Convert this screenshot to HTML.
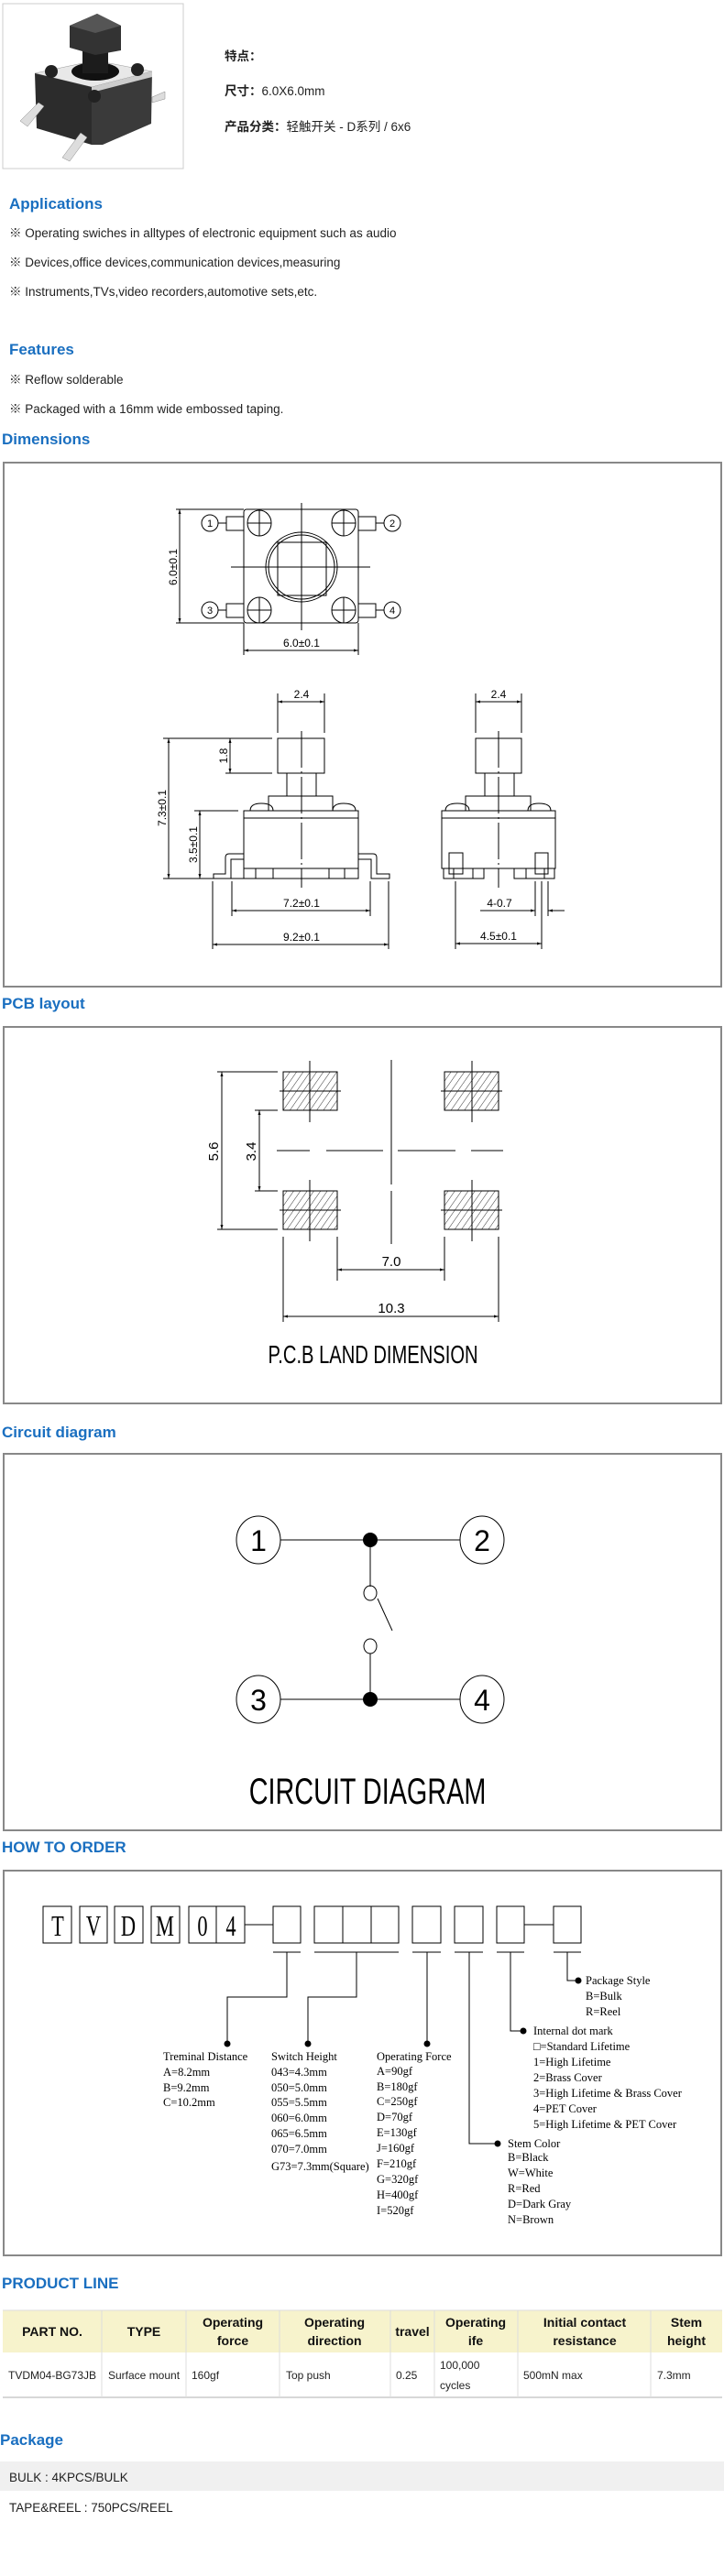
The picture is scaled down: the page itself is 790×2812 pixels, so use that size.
<!DOCTYPE html>
<html><head><meta charset="utf-8"><style>
html,body{margin:0;padding:0;background:#fff;}
svg{display:block;}
.h{font-family:"Liberation Sans",sans-serif;font-weight:bold;fill:#1a6fc0;font-size:17px;}
.t{font-family:"Liberation Sans","Noto Sans CJK SC",sans-serif;font-size:13.5px;fill:#222;}
.d{font-family:"Liberation Sans",sans-serif;font-size:12px;fill:#000;}
.s{font-family:"Liberation Serif","Noto Serif CJK SC",serif;font-size:12.5px;fill:#000;}
.ln{stroke:#000;stroke-width:1;fill:none;}
.bx{stroke:#888;stroke-width:2;fill:none;}
</style></head><body>
<svg width="790" height="2812" viewBox="0 0 790 2812" xmlns="http://www.w3.org/2000/svg">
<defs>
<pattern id="hat" width="6" height="6" patternUnits="userSpaceOnUse" patternTransform="rotate(35)">
<line x1="0" y1="0" x2="0" y2="6" stroke="#000" stroke-width="0.8"/></pattern>
<marker id="ar" viewBox="0 0 10 10" refX="10" refY="5" markerWidth="7" markerHeight="5" orient="auto-start-reverse"><path d="M0,2 L10,5 L0,8z" fill="#000"/></marker>
</defs>

<!-- product image -->
<rect x="3" y="4" width="197" height="180" fill="#fff" stroke="#ccc"/>
<polygon points="38,80 100,95 166,78 104,66" fill="#e8e8e8" stroke="#999" stroke-width="0.5"/>
<polygon points="38,80 100,95 100,158 40,140" fill="#2c2c2c"/>
<polygon points="100,95 166,78 165,135 112,158 100,158" fill="#3a3a3a"/>
<polygon points="100,95 166,78 166,84 100,101" fill="#ccc"/>
<ellipse cx="104" cy="78" rx="26" ry="10" fill="#111"/>
<rect x="90" y="50" width="28" height="30" fill="#1c1c1c"/>
<polygon points="76,28 106,15 132,28 132,55 104,60 76,52" fill="#333"/>
<polygon points="76,28 106,15 132,28 104,36" fill="#555"/>
<circle cx="56" cy="78" r="7" fill="#222"/><circle cx="150" cy="76" r="7" fill="#222"/><circle cx="103" cy="105" r="7" fill="#222"/>
<polygon points="22,132 42,112 48,116 30,138" fill="#ddd" stroke="#888" stroke-width="0.5"/>
<polygon points="68,172 88,145 95,150 76,176" fill="#ddd" stroke="#888" stroke-width="0.5"/>
<polygon points="166,106 180,100 180,108 166,112" fill="#ddd" stroke="#888" stroke-width="0.5"/>

<text x="245" y="66" class="t" font-weight="bold">特点：</text>
<text x="245" y="104" class="t"><tspan font-weight="bold">尺寸：</tspan>6.0X6.0mm</text>
<text x="245" y="143" class="t"><tspan font-weight="bold">产品分类：</tspan>轻触开关 - D系列 / 6x6</text>

<text x="10" y="228" class="h">Applications</text>
<text x="10" y="259" class="t">※ Operating swiches in alltypes of electronic equipment such as audio</text>
<text x="10" y="291" class="t">※ Devices,office devices,communication devices,measuring</text>
<text x="10" y="323" class="t">※ Instruments,TVs,video recorders,automotive sets,etc.</text>
<text x="10" y="387" class="h">Features</text>
<text x="10" y="419" class="t">※ Reflow solderable</text>
<text x="10" y="451" class="t">※ Packaged with a 16mm wide embossed taping.</text>
<text x="2" y="485" class="h">Dimensions</text>

<!-- Dimensions box -->
<rect x="4" y="505" width="783" height="572" class="bx"/>
<g class="ln">
<rect x="266" y="556" width="125" height="124" rx="3"/>
<line x1="329" y1="549" x2="329" y2="688"/><line x1="252" y1="619" x2="404" y2="619"/>
<ellipse cx="329" cy="619" rx="39" ry="38"/><ellipse cx="329" cy="619" rx="36" ry="35"/>
<rect x="303" y="592" width="53" height="58"/>
<ellipse cx="283" cy="571" rx="13" ry="14"/><ellipse cx="375" cy="571" rx="13" ry="14"/>
<ellipse cx="283" cy="666" rx="13" ry="14"/><ellipse cx="375" cy="666" rx="13" ry="14"/>
<line x1="270" y1="571" x2="296" y2="571"/><line x1="283" y1="557" x2="283" y2="585"/>
<line x1="362" y1="571" x2="388" y2="571"/><line x1="375" y1="557" x2="375" y2="585"/>
<line x1="270" y1="666" x2="296" y2="666"/><line x1="283" y1="652" x2="283" y2="680"/>
<line x1="362" y1="666" x2="388" y2="666"/><line x1="375" y1="652" x2="375" y2="680"/>
<rect x="247" y="564" width="19" height="15"/><rect x="391" y="564" width="19" height="15"/>
<rect x="247" y="659" width="19" height="15"/><rect x="391" y="659" width="19" height="15"/>
<line x1="238" y1="571" x2="247" y2="571"/><line x1="410" y1="571" x2="419" y2="571"/>
<line x1="238" y1="666" x2="247" y2="666"/><line x1="410" y1="666" x2="419" y2="666"/>
<ellipse cx="229" cy="571" rx="9" ry="9"/><ellipse cx="428" cy="571" rx="9" ry="9"/>
<ellipse cx="229" cy="666" rx="9" ry="9"/><ellipse cx="428" cy="666" rx="9" ry="9"/>
<line x1="192" y1="556" x2="266" y2="556"/><line x1="192" y1="680" x2="266" y2="680"/>
<line x1="196" y1="556" x2="196" y2="680" marker-start="url(#ar)" marker-end="url(#ar)"/>
<line x1="266" y1="680" x2="266" y2="715"/><line x1="391" y1="680" x2="391" y2="715"/>
<line x1="266" y1="710" x2="391" y2="710" marker-start="url(#ar)" marker-end="url(#ar)"/>
</g>
<g class="d" text-anchor="middle">
<text x="229" y="575" font-size="11">1</text><text x="428" y="575" font-size="11">2</text>
<text x="229" y="670" font-size="11">3</text><text x="428" y="670" font-size="11">4</text>
<text x="329" y="706">6.0±0.1</text>
<text x="0" y="0" transform="translate(193 619) rotate(-90)">6.0±0.1</text>
</g>

<!-- front view -->
<g class="ln">
<rect x="303" y="806" width="51" height="38"/>
<rect x="313" y="844" width="32" height="25"/>
<rect x="293" y="869" width="70" height="16"/>
<path d="M273,885 Q273,877 285,877 Q298,877 298,885"/><path d="M363,885 Q363,877 375,877 Q388,877 388,885"/>
<rect x="266" y="885" width="125" height="63"/><line x1="266" y1="893" x2="391" y2="893"/>
<rect x="266" y="948" width="125" height="11"/>
<line x1="279" y1="948" x2="279" y2="959"/><line x1="298" y1="948" x2="298" y2="959"/>
<line x1="359" y1="948" x2="359" y2="959"/><line x1="376" y1="948" x2="376" y2="959"/>
<path d="M266,932 L250,932 Q246,932 246,936 L246,954 L233,954 L233,959 L252,959 L252,938 L266,938"/>
<path d="M391,932 L407,932 Q411,932 411,936 L411,954 L425,954 L425,959 L405,959 L405,938 L391,938"/>
<line x1="329" y1="798" x2="329" y2="969" stroke-dasharray="40,4,2,4"/>
<line x1="303" y1="757" x2="303" y2="800"/><line x1="354" y1="757" x2="354" y2="800"/>
<line x1="303" y1="766" x2="354" y2="766" marker-start="url(#ar)" marker-end="url(#ar)"/>
<line x1="246" y1="806" x2="297" y2="806"/><line x1="246" y1="844" x2="297" y2="844"/>
<line x1="251" y1="806" x2="251" y2="844" marker-start="url(#ar)" marker-end="url(#ar)"/>
<line x1="178" y1="806" x2="246" y2="806"/><line x1="178" y1="959" x2="266" y2="959"/>
<line x1="184" y1="806" x2="184" y2="959" marker-start="url(#ar)" marker-end="url(#ar)"/>
<line x1="212" y1="885" x2="260" y2="885"/>
<line x1="218" y1="885" x2="218" y2="959" marker-start="url(#ar)" marker-end="url(#ar)"/>
<line x1="253" y1="962" x2="253" y2="1000"/><line x1="404" y1="962" x2="404" y2="1000"/>
<line x1="253" y1="994" x2="404" y2="994" marker-start="url(#ar)" marker-end="url(#ar)"/>
<line x1="232" y1="962" x2="232" y2="1036"/><line x1="424" y1="962" x2="424" y2="1036"/>
<line x1="232" y1="1031" x2="424" y2="1031" marker-start="url(#ar)" marker-end="url(#ar)"/>
</g>
<g class="d" text-anchor="middle">
<text x="329" y="762">2.4</text>
<text x="329" y="990">7.2±0.1</text>
<text x="329" y="1027">9.2±0.1</text>
<text transform="translate(248 825) rotate(-90)">1.8</text>
<text transform="translate(181 882) rotate(-90)">7.3±0.1</text>
<text transform="translate(215 922) rotate(-90)">3.5±0.1</text>
</g>

<!-- side view -->
<g class="ln">
<rect x="519" y="806" width="50" height="38"/>
<rect x="529" y="844" width="32" height="25"/>
<rect x="508" y="869" width="71" height="16"/>
<path d="M486,885 Q486,877 499,877 Q512,877 512,885"/><path d="M576,885 Q576,877 588,877 Q601,877 601,885"/>
<rect x="482" y="885" width="124" height="63"/><line x1="482" y1="893" x2="606" y2="893"/>
<rect x="484" y="948" width="44" height="11"/><rect x="561" y="948" width="44" height="11"/>
<line x1="495" y1="948" x2="495" y2="959"/><line x1="516" y1="948" x2="516" y2="959"/>
<line x1="574" y1="948" x2="574" y2="959"/><line x1="594" y1="948" x2="594" y2="959"/>
<rect x="490" y="931" width="15" height="23"/><rect x="584" y="931" width="14" height="23"/>
<line x1="544" y1="798" x2="544" y2="969" stroke-dasharray="40,4,2,4"/>
<line x1="519" y1="757" x2="519" y2="800"/><line x1="569" y1="757" x2="569" y2="800"/>
<line x1="519" y1="766" x2="569" y2="766" marker-start="url(#ar)" marker-end="url(#ar)"/>
<line x1="497" y1="962" x2="497" y2="1036"/><line x1="591" y1="962" x2="591" y2="1036"/>
<line x1="584" y1="962" x2="584" y2="1000"/><line x1="598" y1="962" x2="598" y2="1000"/>
<line x1="524" y1="994" x2="584" y2="994" marker-end="url(#ar)"/>
<line x1="616" y1="994" x2="598" y2="994" marker-end="url(#ar)"/>
<line x1="497" y1="1030" x2="591" y2="1030" marker-start="url(#ar)" marker-end="url(#ar)"/>
</g>
<g class="d" text-anchor="middle">
<text x="544" y="762">2.4</text>
<text x="545" y="990">4-0.7</text>
<text x="544" y="1026">4.5±0.1</text>
</g>

<text x="2" y="1101" class="h">PCB layout</text>
<rect x="4" y="1121" width="783" height="411" class="bx"/>
<g class="ln">
<rect x="309" y="1170" width="59" height="42" fill="url(#hat)"/>
<rect x="485" y="1170" width="59" height="42" fill="url(#hat)"/>
<rect x="309" y="1300" width="59" height="42" fill="url(#hat)"/>
<rect x="485" y="1300" width="59" height="42" fill="url(#hat)"/>
<line x1="305" y1="1191" x2="372" y2="1191"/><line x1="481" y1="1191" x2="548" y2="1191"/>
<line x1="305" y1="1321" x2="372" y2="1321"/><line x1="481" y1="1321" x2="548" y2="1321"/>
<line x1="338" y1="1158" x2="338" y2="1225"/><line x1="515" y1="1158" x2="515" y2="1225"/>
<line x1="338" y1="1288" x2="338" y2="1355"/><line x1="515" y1="1288" x2="515" y2="1355"/>
<line x1="427" y1="1157" x2="427" y2="1293"/><line x1="427" y1="1300" x2="427" y2="1358"/>
<line x1="302" y1="1256" x2="338" y2="1256"/><line x1="356" y1="1256" x2="418" y2="1256"/>
<line x1="434" y1="1256" x2="497" y2="1256"/><line x1="514" y1="1256" x2="549" y2="1256"/>
<line x1="237" y1="1170" x2="303" y2="1170"/><line x1="237" y1="1342" x2="303" y2="1342"/>
<line x1="242" y1="1170" x2="242" y2="1342" marker-start="url(#ar)" marker-end="url(#ar)"/>
<line x1="278" y1="1212" x2="303" y2="1212"/><line x1="278" y1="1300" x2="303" y2="1300"/>
<line x1="283" y1="1212" x2="283" y2="1300" marker-start="url(#ar)" marker-end="url(#ar)"/>
<line x1="368" y1="1350" x2="368" y2="1398"/><line x1="485" y1="1350" x2="485" y2="1398"/>
<line x1="368" y1="1386" x2="485" y2="1386" marker-start="url(#ar)" marker-end="url(#ar)"/>
<line x1="309" y1="1350" x2="309" y2="1443"/><line x1="544" y1="1350" x2="544" y2="1443"/>
<line x1="309" y1="1437" x2="544" y2="1437" marker-start="url(#ar)" marker-end="url(#ar)"/>
</g>
<g class="d" text-anchor="middle" font-size="15">
<text x="427" y="1382" font-size="15">7.0</text>
<text x="427" y="1433" font-size="15">10.3</text>
<text transform="translate(238 1257) rotate(-90)" font-size="15">5.6</text>
<text transform="translate(279 1257) rotate(-90)" font-size="15">3.4</text>
</g>
<text x="0" y="0" transform="translate(407 1488) scale(0.72 1)" text-anchor="middle" font-family="Liberation Sans,sans-serif" font-size="28" fill="#000">P.C.B LAND DIMENSION</text>

<text x="2" y="1569" class="h">Circuit diagram</text>
<rect x="4" y="1587" width="783" height="411" class="bx"/>
<g class="ln">
<ellipse cx="282" cy="1681" rx="24" ry="26"/><ellipse cx="526" cy="1681" rx="24" ry="26"/>
<ellipse cx="282" cy="1855" rx="24" ry="26"/><ellipse cx="526" cy="1855" rx="24" ry="26"/>
<line x1="306" y1="1681" x2="502" y2="1681"/><line x1="306" y1="1855" x2="502" y2="1855"/>
<line x1="404" y1="1681" x2="404" y2="1732"/><line x1="404" y1="1805" x2="404" y2="1855"/>
<ellipse cx="404" cy="1739" rx="7" ry="8"/><ellipse cx="404" cy="1797" rx="7" ry="8"/>
<line x1="412" y1="1745" x2="428" y2="1780"/>
</g>
<ellipse cx="404" cy="1681" rx="8" ry="8" fill="#000"/><ellipse cx="404" cy="1855" rx="8" ry="8" fill="#000"/>
<g font-family="Liberation Sans,sans-serif" font-size="32" text-anchor="middle" fill="#000">
<text x="282" y="1693">1</text><text x="526" y="1693">2</text><text x="282" y="1867">3</text><text x="526" y="1867">4</text>
</g>
<text transform="translate(401 1969) scale(0.72 1)" text-anchor="middle" font-family="Liberation Sans,sans-serif" font-size="40" fill="#000">CIRCUIT DIAGRAM</text>

<text x="2" y="2022" class="h">HOW TO ORDER</text>
<rect x="4" y="2042" width="783" height="420" class="bx"/>
<g class="ln">
<rect x="47" y="2081" width="31" height="40"/><rect x="87" y="2081" width="30" height="40"/>
<rect x="125" y="2081" width="31" height="40"/><rect x="165" y="2081" width="31" height="40"/>
<rect x="206" y="2081" width="61" height="40"/><line x1="236" y1="2081" x2="236" y2="2121"/>
<line x1="267" y1="2101" x2="298" y2="2101"/>
<rect x="298" y="2081" width="30" height="40"/>
<rect x="343" y="2081" width="92" height="40"/><line x1="374" y1="2081" x2="374" y2="2121"/><line x1="405" y1="2081" x2="405" y2="2121"/>
<rect x="450" y="2081" width="31" height="40"/><rect x="496" y="2081" width="31" height="40"/>
<rect x="542" y="2081" width="30" height="40"/><line x1="572" y1="2101" x2="604" y2="2101"/>
<rect x="604" y="2081" width="30" height="40"/>
<line x1="298" y1="2131" x2="328" y2="2131"/><line x1="343" y1="2131" x2="435" y2="2131"/>
<line x1="450" y1="2131" x2="481" y2="2131"/><line x1="496" y1="2131" x2="527" y2="2131"/>
<line x1="542" y1="2131" x2="572" y2="2131"/><line x1="604" y1="2131" x2="634" y2="2131"/>
<polyline points="313,2131 313,2180 248,2180 248,2231"/>
<polyline points="389,2131 389,2180 336,2180 336,2231"/>
<polyline points="466,2131 466,2231"/>
<polyline points="512,2131 512,2340 543,2340"/>
<polyline points="557,2131 557,2217 571,2217"/>
<polyline points="619,2131 619,2162 631,2162"/>
</g>
<g fill="#000"><circle cx="248" cy="2231" r="3.5"/><circle cx="336" cy="2231" r="3.5"/><circle cx="466" cy="2231" r="3.5"/>
<circle cx="543" cy="2340" r="3.5"/><circle cx="571" cy="2217" r="3.5"/><circle cx="631" cy="2162" r="3.5"/></g>
<g font-family="Liberation Serif,serif" font-size="32" text-anchor="middle" fill="#000">
<text transform="translate(63 2113) scale(0.7 1)">T</text><text transform="translate(102 2113) scale(0.7 1)">V</text>
<text transform="translate(140 2113) scale(0.7 1)">D</text><text transform="translate(180 2113) scale(0.7 1)">M</text>
<text transform="translate(221 2113) scale(0.7 1)">0</text><text transform="translate(252 2113) scale(0.7 1)">4</text>
</g>
<g class="s">
<text x="178" y="2249">Treminal Distance</text><text x="178" y="2266">A=8.2mm</text><text x="178" y="2283">B=9.2mm</text><text x="178" y="2299">C=10.2mm</text>
<text x="296" y="2249">Switch Height</text><text x="296" y="2266">043=4.3mm</text><text x="296" y="2283">050=5.0mm</text><text x="296" y="2299">055=5.5mm</text><text x="296" y="2316">060=6.0mm</text><text x="296" y="2333">065=6.5mm</text><text x="296" y="2350">070=7.0mm</text><text x="296" y="2369">G73=7.3mm(Square)</text>
<text x="411" y="2249">Operating Force</text><text x="411" y="2265">A=90gf</text><text x="411" y="2282">B=180gf</text><text x="411" y="2298">C=250gf</text><text x="411" y="2315">D=70gf</text><text x="411" y="2332">E=130gf</text><text x="411" y="2349">J=160gf</text><text x="411" y="2366">F=210gf</text><text x="411" y="2383">G=320gf</text><text x="411" y="2400">H=400gf</text><text x="411" y="2417">I=520gf</text>
<text x="554" y="2344">Stem Color</text><text x="554" y="2359">B=Black</text><text x="554" y="2376">W=White</text><text x="554" y="2393">R=Red</text><text x="554" y="2410">D=Dark Gray</text><text x="554" y="2427">N=Brown</text>
<text x="582" y="2221">Internal dot mark</text><text x="582" y="2238">□=Standard Lifetime</text><text x="582" y="2255">1=High Lifetime</text><text x="582" y="2272">2=Brass Cover</text><text x="582" y="2289">3=High Lifetime &amp; Brass Cover</text><text x="582" y="2306">4=PET Cover</text><text x="582" y="2323">5=High Lifetime &amp; PET Cover</text>
<text x="639" y="2166">Package Style</text><text x="639" y="2183">B=Bulk</text><text x="639" y="2200">R=Reel</text>
</g>

<text x="2" y="2498" class="h">PRODUCT LINE</text>
<rect x="3" y="2522" width="785" height="46" fill="#f7f3cc"/>
<line x1="3" y1="2522" x2="788" y2="2522" stroke="#ddd"/>
<line x1="3" y1="2617" x2="788" y2="2617" stroke="#ccc" stroke-width="1.5"/>
<g stroke="#ddd"><line x1="111" y1="2522" x2="111" y2="2617"/><line x1="203" y1="2522" x2="203" y2="2617"/><line x1="305" y1="2522" x2="305" y2="2617"/><line x1="426" y1="2522" x2="426" y2="2617"/><line x1="474" y1="2522" x2="474" y2="2617"/><line x1="565" y1="2522" x2="565" y2="2617"/><line x1="710" y1="2522" x2="710" y2="2617"/></g>
<g font-family="Liberation Sans,sans-serif" font-weight="bold" font-size="14" fill="#111" text-anchor="middle">
<text x="57" y="2550">PART NO.</text><text x="157" y="2550">TYPE</text>
<text x="254" y="2540">Operating</text><text x="254" y="2560">force</text>
<text x="365" y="2540">Operating</text><text x="365" y="2560">direction</text>
<text x="450" y="2550">travel</text>
<text x="519" y="2540">Operating</text><text x="519" y="2560">ife</text>
<text x="638" y="2540">Initial contact</text><text x="638" y="2560">resistance</text>
<text x="749" y="2540">Stem</text><text x="749" y="2560">height</text>
</g>
<g font-family="Liberation Sans,sans-serif" font-size="12" fill="#222">
<text x="9" y="2597">TVDM04-BG73JB</text><text x="118" y="2597">Surface mount</text><text x="209" y="2597">160gf</text>
<text x="312" y="2597">Top push</text><text x="432" y="2597">0.25</text><text x="480" y="2586">100,000</text><text x="480" y="2608">cycles</text>
<text x="571" y="2597">500mN max</text><text x="717" y="2597">7.3mm</text>
</g>

<text x="0" y="2669" class="h">Package</text>
<rect x="0" y="2687" width="790" height="32" fill="#f0f0f0"/>
<text x="10" y="2709" class="t">BULK : 4KPCS/BULK</text>
<text x="10" y="2742" class="t">TAPE&amp;REEL : 750PCS/REEL</text>
</svg>
</body></html>
